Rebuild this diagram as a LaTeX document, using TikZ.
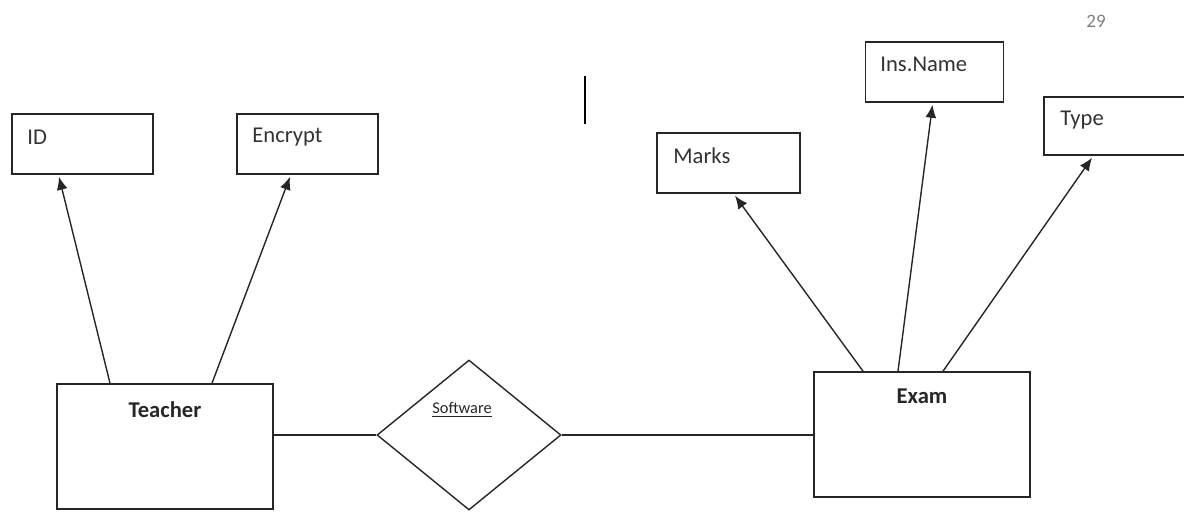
\documentclass[tikz,border=0pt]{standalone}
\usepackage{fontspec}
\setmainfont{Carlito}
\usetikzlibrary{shapes.geometric,arrows.meta}
\begin{document}
\begin{tikzpicture}[x=0.5pt,y=-0.5pt,
  attr/.style={draw=black!85,line width=0.75pt,rectangle,minimum width=70.5pt,minimum height=30pt,inner sep=0pt},
  ent/.style={draw=black!85,line width=0.8pt,rectangle,minimum width=108pt,minimum height=62.5pt,inner sep=0pt},
  lbl/.style={anchor=west,inner sep=0pt,font=\fontsize{11.3}{13}\selectfont,text=black!80},
  blbl/.style={inner sep=0pt,font=\fontsize{11.3}{13}\selectfont\bfseries,text=black!85},
  arr/.style={draw=black!85,line width=0.7pt,-{Latex[length=6.5pt,width=5.5pt]}},
  conn/.style={draw=black!85,line width=0.7pt}]
\useasboundingbox (0,0) rectangle (1184,511);
% attribute boxes
\node[attr] (id) at (82.5,144) {};
\node[attr] (enc) at (307.5,144) {};
\node[attr,minimum width=71.5pt] (marks) at (728.5,163) {};
\node[attr,minimum width=69pt] (ins) at (934.5,72) {};
\node[attr,minimum width=71pt,minimum height=29pt] (type) at (1115,126) {};
\node[lbl] (idt) at (27,137) {ID};
\node[lbl] (enct) at (252,137) {Encrypt};
\node[lbl] (markst) at (673,156) {Marks};
\node[lbl] (inst) at (880,64) {Ins.Name};
\node[lbl] (typet) at (1060,120) {Type};
% entities
\node[ent] (teacher) at (165,446.5) {};
\node[ent] (exam) at (922,434.5) {};
\node[blbl] (teachert) at (165,410) {Teacher};
\node[blbl] (examt) at (922,396) {Exam};
% relationship
\node[draw=black!85,line width=0.7pt,shape=diamond,aspect=1.227,minimum width=92pt,minimum height=75pt,inner sep=0pt] (sw) at (469,435) {};
\node[inner sep=0pt,font=\fontsize{8.2}{10}\selectfont,text=black!85] (swt) at (462,410) {\underline{Software}};
% connectors
\draw[conn] (sw.west) -- (sw.west -| teacher.east);
\draw[conn] (sw.east) -- (sw.east -| exam.west);
\draw[arr] ([xshift=-27.5pt]teacher.north) -- ([xshift=-11.75pt,yshift=-1pt]id.south);
\draw[arr] ([xshift=23.5pt]teacher.north) -- ([xshift=-8.75pt,yshift=-1pt]enc.south);
\draw[arr] ([xshift=-29.5pt]exam.north) -- ([xshift=3.25pt,yshift=-1pt]marks.south);
\draw[arr] ([xshift=-12pt]exam.north) -- ([xshift=-1pt,yshift=-1pt]ins.south);
\draw[arr] ([xshift=10.5pt]exam.north) -- ([xshift=-11.5pt,yshift=-1pt]type.south);
% stray mark and page number
\draw[line width=1.3pt] (585,76) -- (585,124);
\node[inner sep=0pt,font=\fontsize{9.5}{10}\selectfont,text=black!50] (pg) at (1096,21) {29};
\end{tikzpicture}
\end{document}
